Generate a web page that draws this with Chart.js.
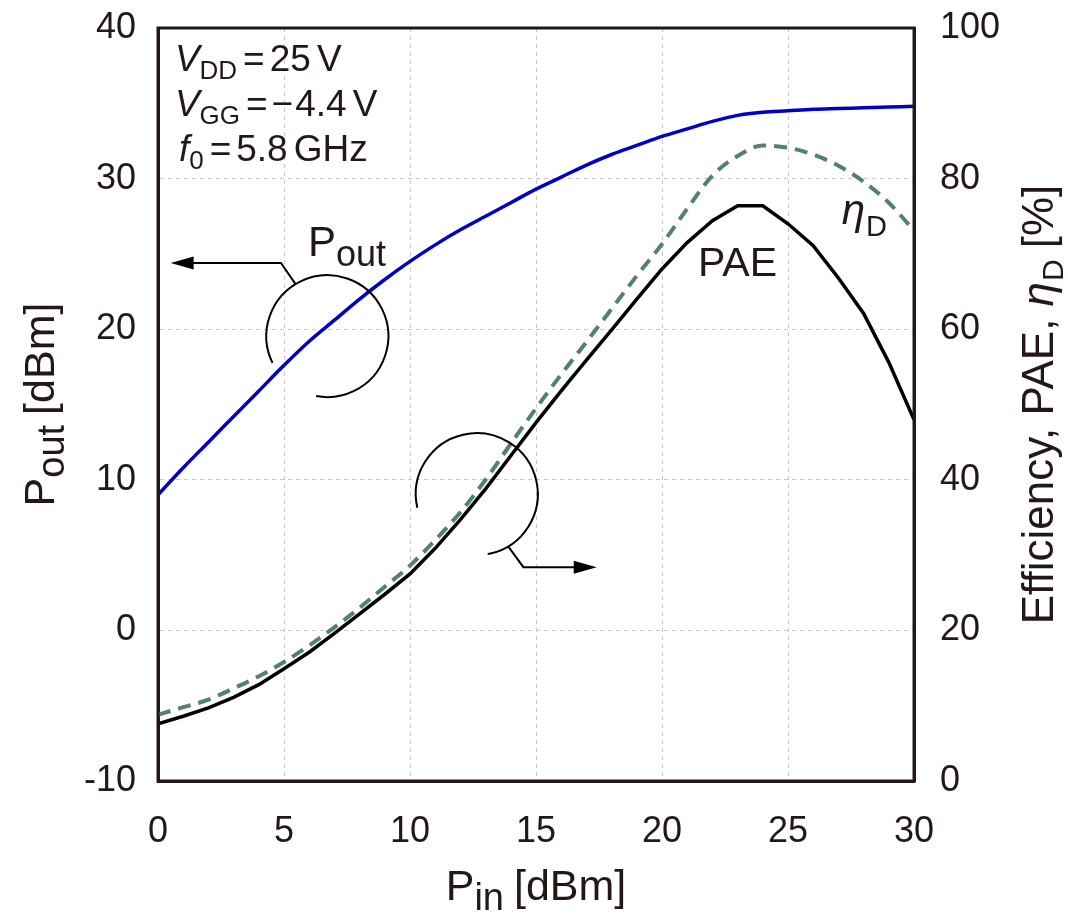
<!DOCTYPE html>
<html>
<head>
<meta charset="utf-8">
<script src="https://cdn.jsdelivr.net/npm/chart.js@4.4.0/dist/chart.umd.min.js"></script>
<style>
html, body { margin: 0; padding: 0; background: #fff; }
#wrap { width: 1068px; height: 913px; }
</style>
</head>
<body>
<div id="wrap"><canvas id="PlotCanvas" width="1068" height="913"></canvas></div>
<script>
// input power sweep [dBm]
var pinValues = [0, 1, 2, 3, 4, 5, 6, 7, 8, 9, 10, 11, 12, 13, 14, 15,
                 16, 17, 18, 19, 20, 21, 22, 23, 24, 25, 26, 27, 28, 29, 30];
// output power [dBm] (left axis)
var poutValues = [9.0, 10.8, 12.5, 14.2, 15.9, 17.6, 19.2, 20.6, 22.0, 23.3, 24.5,
                  25.6, 26.6, 27.5, 28.4, 29.3, 30.1, 30.9, 31.6, 32.2, 32.8,
                  33.3, 33.8, 34.2, 34.4, 34.5, 34.6, 34.65, 34.7, 34.75, 34.8];
// power added efficiency [%] (right axis)
var paeValues = [7.6, 8.6, 9.7, 11.1, 12.8, 14.9, 17.1, 19.6, 22.2, 24.8, 27.5,
                 30.9, 34.7, 38.8, 43.2, 47.6, 51.8, 55.9, 59.9, 64.0, 68.0,
                 71.5, 74.4, 76.4, 76.4, 74.0, 71.1, 66.8, 62.1, 55.6, 48.0];
// drain efficiency [%] (right axis)
var etaValues = [8.8, 9.8, 10.8, 12.3, 13.9, 15.8, 18.0, 20.4, 23.0, 25.8, 28.6,
                 32.0, 35.7, 40.0, 44.8, 49.5, 54.0, 58.3, 62.7, 67.1, 71.3,
                 76.0, 80.4, 83.0, 84.4, 84.1, 83.2, 81.7, 79.6, 76.8, 73.1];

var xTickValues = [0, 5, 10, 15, 20, 25, 30];
var leftTickValues = [-10, 0, 10, 20, 30, 40];
var rightTickValues = [0, 20, 40, 60, 80, 100];

var FONT = '"Liberation Sans", Arial, sans-serif';
var INK = '#231815';

function fontStr(size, italic) {
    return (italic ? 'italic ' : '') + size + 'px ' + FONT;
}

// draws a run of text pieces (for subscripts / italics) starting at x
function drawParts(ctx, parts, x, y, align) {
    var total = 0;
    parts.forEach(function (p) {
        ctx.font = fontStr(p.size, p.italic);
        p.w = ctx.measureText(p.text).width;
        total += p.w + (p.gap || 0);
    });
    var cx = align === 'center' ? x - total / 2 : x;
    parts.forEach(function (p) {
        ctx.font = fontStr(p.size, p.italic);
        ctx.fillText(p.text, cx, y + (p.dy || 0));
        cx += p.w + (p.gap || 0);
    });
}

function arrowHead(ctx, x, y, dir) {
    ctx.beginPath();
    ctx.moveTo(x, y);
    ctx.lineTo(x - dir * 23, y - 6.5);
    ctx.lineTo(x - dir * 23, y + 6.5);
    ctx.closePath();
    ctx.fill();
}

// keep the tick labels from pushing the plot area down
function fixVertical(width) {
    return function (s) {
        s.width = width;
        s.paddingTop = 0;
        s.paddingBottom = 0;
    };
}

var notesPlugin = {
    id: 'notes',
    afterDatasetsDraw: function (chart) {
        var ctx = chart.ctx, a = chart.chartArea;
        var xs = chart.scales.x, yl = chart.scales.yL;
        var px = function (v) { return xs.getPixelForValue(v); };
        var py = function (v) { return yl.getPixelForValue(v); };
        ctx.save();

        // plot frame
        ctx.strokeStyle = INK;
        ctx.lineWidth = 3;
        ctx.strokeRect(a.left, a.top, a.right - a.left, a.bottom - a.top);

        ctx.fillStyle = INK;
        ctx.textBaseline = 'alphabetic';

        // bias conditions
        drawParts(ctx, [
            { text: 'V', size: 37, italic: true },
            { text: 'DD', size: 26, dy: 8, gap: 6 },
            { text: '=', size: 37, gap: 5 },
            { text: '25', size: 37, gap: 6 },
            { text: 'V', size: 37 }
        ], px(0.67), py(37.14));
        drawParts(ctx, [
            { text: 'V', size: 37, italic: true },
            { text: 'GG', size: 26, dy: 8, gap: 6 },
            { text: '=', size: 37, gap: 4 },
            { text: '\u2212', size: 37, gap: 2 },
            { text: '4.4', size: 37, gap: 6 },
            { text: 'V', size: 37 }
        ], px(0.67), py(34.15));
        drawParts(ctx, [
            { text: 'f', size: 37, italic: true },
            { text: '0', size: 26, dy: 8, gap: 6 },
            { text: '=', size: 37, gap: 5 },
            { text: '5.8', size: 37, gap: 6 },
            { text: 'GHz', size: 37 }
        ], px(0.83), py(31.16));

        // curve labels
        drawParts(ctx, [
            { text: 'P', size: 42 },
            { text: 'out', size: 36, dy: 10 }
        ], px(5.95), py(24.85));
        drawParts(ctx, [{ text: 'PAE', size: 41 }], px(21.43), py(23.5));
        drawParts(ctx, [
            { text: '\u03b7', size: 42, italic: true, gap: 1 },
            { text: 'D', size: 29, dy: 12 }
        ], px(27.13), py(27.0));

        // P_out circle + arrow to left axis
        ctx.strokeStyle = '#000';
        ctx.fillStyle = '#000';
        ctx.lineWidth = 2;
        var c1x = px(6.72), c1y = py(19.54), r = 61;
        ctx.beginPath();
        ctx.arc(c1x, c1y, r, 154 * Math.PI / 180, 460.6 * Math.PI / 180);
        ctx.stroke();
        var t1 = 238.6 * Math.PI / 180;
        ctx.beginPath();
        ctx.moveTo(c1x + r * Math.cos(t1), c1y + r * Math.sin(t1));
        ctx.lineTo(px(4.88), py(24.4));
        ctx.lineTo(px(0.5) + 20, py(24.4));
        ctx.stroke();
        arrowHead(ctx, px(0.5), py(24.4), -1);

        // efficiency circle + arrow to right axis
        var c2x = px(12.65), c2y = py(9.05);
        ctx.beginPath();
        ctx.arc(c2x, c2y, r, 167 * Math.PI / 180, 439.7 * Math.PI / 180);
        ctx.stroke();
        var t2 = 59 * Math.PI / 180;
        ctx.beginPath();
        ctx.moveTo(c2x + r * Math.cos(t2), c2y + r * Math.sin(t2));
        ctx.lineTo(px(14.5), py(4.2));
        ctx.lineTo(px(17.41) - 20, py(4.2));
        ctx.stroke();
        arrowHead(ctx, px(17.41), py(4.2), 1);

        ctx.restore();
    },
    afterDraw: function (chart) {
        var ctx = chart.ctx, a = chart.chartArea;
        var midY = (a.top + a.bottom) / 2;
        ctx.save();
        ctx.fillStyle = INK;
        ctx.textBaseline = 'alphabetic';

        // x title
        drawParts(ctx, [
            { text: 'P', size: 43 },
            { text: 'in', size: 38, dy: 10, gap: 10 },
            { text: '[dBm]', size: 43 }
        ], (a.left + a.right) / 2, 900, 'center');

        // left title
        ctx.save();
        ctx.translate(54, midY);
        ctx.rotate(-Math.PI / 2);
        drawParts(ctx, [
            { text: 'P', size: 43 },
            { text: 'out', size: 38, dy: 10, gap: 10 },
            { text: '[dBm]', size: 43 }
        ], 0, 0, 'center');
        ctx.restore();

        // right title
        ctx.save();
        ctx.translate(1053, midY);
        ctx.rotate(-Math.PI / 2);
        drawParts(ctx, [
            { text: 'Efficiency, PAE, ', size: 44 },
            { text: '\u03b7', size: 44, italic: true, gap: 1 },
            { text: 'D', size: 30, dy: 10, gap: 11 },
            { text: '[%]', size: 44 }
        ], 0, 0, 'center');
        ctx.restore();

        ctx.restore();
    }
};

var ctx = document.getElementById('PlotCanvas').getContext('2d');
var data = {
    labels: pinValues,
    datasets: [{
        label: 'Pout',
        yAxisID: 'yL',
        data: poutValues,
        borderColor: '#0000cc',
        borderWidth: 3.5,
        pointRadius: 0,
        cubicInterpolationMode: 'monotone'
    }, {
        label: 'eta_D',
        yAxisID: 'yR',
        data: etaValues,
        borderColor: '#50826e',
        borderWidth: 4,
        borderDash: [13, 8],
        pointRadius: 0,
        cubicInterpolationMode: 'monotone'
    }, {
        label: 'PAE',
        yAxisID: 'yR',
        data: paeValues,
        borderColor: '#000000',
        borderWidth: 3.5,
        pointRadius: 0,
        tension: 0
    }]
};
var tickFont = { family: FONT, size: 36 };
var options = {
    responsive: false,
    animation: false,
    events: [],
    layout: { padding: { top: 28, left: 0, right: 0, bottom: 0 } },
    plugins: { legend: { display: false }, tooltip: { enabled: false } },
    scales: {
        x: {
            type: 'linear',
            position: 'bottom',
            min: 0, max: 30,
            afterBuildTicks: function (s) { s.ticks = xTickValues.map(function (v) { return { value: v }; }); },
            afterFit: function (s) { s.height = 132; },
            grid: { color: '#c8c8c8', lineWidth: 1, drawTicks: false },
            border: { color: INK, width: 3, dash: [4, 4] },
            ticks: { font: tickFont, color: INK, padding: 29, maxRotation: 0 }
        },
        yL: {
            type: 'linear',
            position: 'left',
            min: -10, max: 40,
            afterBuildTicks: function (s) { s.ticks = leftTickValues.map(function (v) { return { value: v }; }); },
            afterFit: fixVertical(158),
            grid: { color: '#c8c8c8', lineWidth: 1, drawTicks: false },
            border: { color: INK, width: 3, dash: [4, 4] },
            ticks: { font: tickFont, color: INK, padding: 22 }
        },
        yR: {
            type: 'linear',
            position: 'right',
            min: 0, max: 100,
            afterBuildTicks: function (s) { s.ticks = rightTickValues.map(function (v) { return { value: v }; }); },
            afterFit: fixVertical(154),
            grid: { display: false, drawTicks: false },
            border: { color: INK, width: 3 },
            ticks: { font: tickFont, color: INK, padding: 26 }
        }
    }
};
new Chart(ctx, {
    type: 'line',
    data: data,
    options: options,
    plugins: [notesPlugin]
});
</script>
</body>
</html>
